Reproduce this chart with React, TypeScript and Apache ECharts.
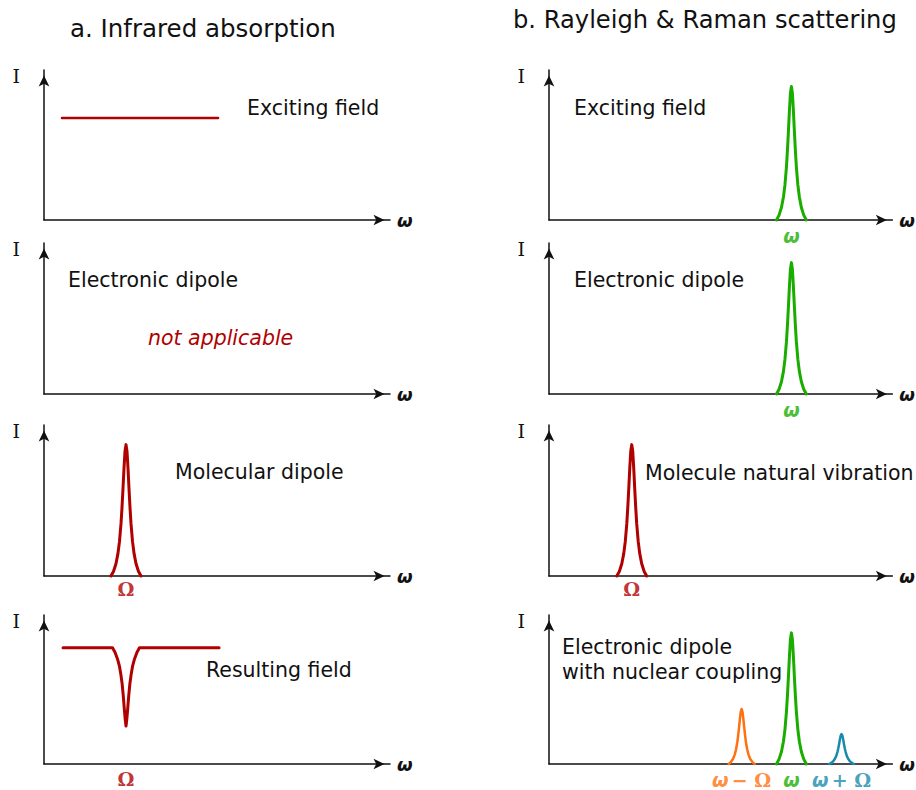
import React, { useEffect, useRef } from "react";
import * as echarts from "echarts";

// ---- Data (frequency ω in arbitrary units 0–100, intensity I in arbitrary units 0–100) ----
// a. Infrared absorption
const irExcitingX = [5.2, 50.3];
const irExcitingY = [68, 68];

const irMolecularX = [19.35, 20.08, 20.8, 21.38, 21.82, 22.25, 22.54, 22.83, 23.12, 23.41, 23.7, 23.99, 24.28, 24.57, 24.86, 25.15, 25.58, 26.02, 26.6, 27.32, 28.05];
const irMolecularY = [0, 3.0, 8.1, 15.0, 22.9, 34.5, 45.2, 57.8, 71.3, 82.6, 87, 82.6, 71.3, 57.8, 45.2, 34.5, 22.9, 15.0, 8.1, 3.0, 0];

const irResultX = [5.5, 19.8, 20.52, 21.24, 21.82, 22.25, 22.6, 22.92, 23.21, 23.47, 23.7, 23.93, 24.19, 24.48, 24.8, 25.15, 25.58, 26.16, 26.88, 27.6, 50.6];
const irResultY = [78, 78, 75, 70.5, 65.5, 59.5, 53.5, 45.5, 37, 30, 25.5, 30, 37, 45.5, 53.5, 59.5, 65.5, 70.5, 75, 78, 78];

// b. Rayleigh & Raman scattering
const raExcitingX = [66.25, 66.98, 67.7, 68.28, 68.72, 69.15, 69.44, 69.73, 70.02, 70.31, 70.6, 70.89, 71.18, 71.47, 71.76, 72.05, 72.48, 72.92, 73.5, 74.22, 74.95];
const raExcitingY = [0, 3.1, 8.3, 15.3, 23.4, 35.3, 46.2, 59.1, 73.0, 84.5, 89, 84.5, 73.0, 59.1, 46.2, 35.3, 23.4, 15.3, 8.3, 3.1, 0];

const raElectronicX = [66.25, 66.98, 67.7, 68.28, 68.72, 69.15, 69.44, 69.73, 70.02, 70.31, 70.6, 70.89, 71.18, 71.47, 71.76, 72.05, 72.48, 72.92, 73.5, 74.22, 74.95];
const raElectronicY = [0, 3.0, 8.1, 15.0, 22.9, 34.5, 45.2, 57.8, 71.3, 82.6, 87, 82.6, 71.3, 57.8, 45.2, 34.5, 22.9, 15.0, 8.1, 3.0, 0];

const raVibrationX = [19.75, 20.48, 21.2, 21.78, 22.22, 22.65, 22.94, 23.23, 23.52, 23.81, 24.1, 24.39, 24.68, 24.97, 25.26, 25.55, 25.98, 26.42, 27.0, 27.72, 28.45];
const raVibrationY = [0, 3.0, 8.1, 15.0, 22.9, 34.5, 45.2, 57.8, 71.3, 82.6, 87, 82.6, 71.3, 57.8, 45.2, 34.5, 22.9, 15.0, 8.1, 3.0, 0];

const raRayleighX = [66.25, 66.98, 67.7, 68.28, 68.72, 69.15, 69.44, 69.73, 70.02, 70.31, 70.6, 70.89, 71.18, 71.47, 71.76, 72.05, 72.48, 72.92, 73.5, 74.22, 74.95];
const raRayleighY = [0, 3.1, 8.2, 15.1, 23.1, 34.9, 45.7, 58.4, 72.2, 83.5, 88, 83.5, 72.2, 58.4, 45.7, 34.9, 23.1, 15.1, 8.2, 3.1, 0];

const raStokesX = [52.33, 52.96, 53.59, 54.09, 54.47, 54.84, 55.09, 55.35, 55.6, 55.85, 56.1, 56.35, 56.6, 56.85, 57.11, 57.36, 57.73, 58.11, 58.61, 59.24, 59.87];
const raStokesY = [0, 1.3, 3.4, 6.3, 9.7, 14.6, 19.2, 24.5, 30.3, 35.0, 36.9, 35.0, 30.3, 24.5, 19.2, 14.6, 9.7, 6.3, 3.4, 1.3, 0];

const raAntiStokesX = [81.59, 82.2, 82.79, 83.27, 83.64, 84.0, 84.24, 84.48, 84.72, 84.96, 85.2, 85.44, 85.68, 85.92, 86.16, 86.4, 86.76, 87.13, 87.61, 88.2, 88.81];
const raAntiStokesY = [0, 0.7, 1.9, 3.5, 5.3, 8.0, 10.4, 13.3, 16.5, 19.1, 20.1, 19.1, 16.5, 13.3, 10.4, 8.0, 5.3, 3.5, 1.9, 0.7, 0];

// Peak position labels
const omegaPos = 70.6;
const omegaMinusPos = 56.1;
const omegaPlusPos = 85.2;
const irOmegaPos = 23.7;
const raOmegaPos = 24.1;

const RED = "#b00000";
const GREEN = "#1aad00";
const ORANGE = "#ff7010";
const BLUE = "#1a8aab";
const INK = "#111111";

const zip = (xs: number[], ys: number[]) => xs.map((x, i) => [x, ys[i]]);

// panel rows (pixel layout)
const rows = [
  { top: 70, height: 150 },
  { top: 243, height: 151 },
  { top: 425, height: 151 },
  { top: 615, height: 149 },
];
const cols = [
  { left: 44, width: 346 },
  { left: 549, width: 344 },
];

export default function App() {
  const ref = useRef<HTMLDivElement>(null);

  useEffect(() => {
    if (!ref.current) return;
    const chart = echarts.init(ref.current, null, { renderer: "svg" });

    const grids: any[] = [];
    const xAxes: any[] = [];
    const yAxes: any[] = [];
    cols.forEach((c) => {
      rows.forEach((r) => {
        grids.push({ left: c.left, top: r.top, width: c.width, height: r.height });
      });
    });
    const axisLine = {
      show: true,
      lineStyle: { color: INK, width: 1.5 },
      symbol: ["none", "arrow"],
      symbolSize: [8, 11],
      symbolOffset: [0, -5.5],
    };
    grids.forEach((_, i) => {
      xAxes.push({
        gridIndex: i,
        type: "value",
        min: 0,
        max: 100,
        axisLine,
        axisTick: { show: false },
        axisLabel: { show: false },
        splitLine: { show: false },
        name: "ω",
        nameLocation: "end",
        nameGap: 7,
        nameTextStyle: {
          fontFamily: "DejaVu Sans",
          fontWeight: "bold",
          fontStyle: "italic",
          fontSize: 18,
          color: INK,
          verticalAlign: "middle",
        },
      });
      yAxes.push({
        gridIndex: i,
        type: "value",
        min: 0,
        max: 100,
        axisLine,
        axisTick: { show: false },
        axisLabel: { show: false },
        splitLine: { show: false },
        name: "I",
        nameLocation: "end",
        nameGap: -6,
        nameTextStyle: {
          fontFamily: "DejaVu Serif",
          fontSize: 19,
          color: INK,
          align: "right",
          verticalAlign: "middle",
          padding: [0, 24, 0, 0],
        },
      });
    });

    const lineSeries = (g: number, xs: number[], ys: number[], color: string, width = 3) => ({
      type: "line",
      xAxisIndex: g,
      yAxisIndex: g,
      data: zip(xs, ys),
      showSymbol: false,
      symbol: "none",
      clip: false,
      lineStyle: { color, width, cap: "round", join: "round" },
      silent: true,
    });

    const labelSeries = (g: number, x: number, text: string, color: string, serif: boolean, distance: number) => ({
      type: "scatter",
      xAxisIndex: g,
      yAxisIndex: g,
      data: [[x, 0]],
      symbolSize: 0,
      silent: true,
      label: {
        show: true,
        position: "bottom",
        distance,
        formatter: text,
        color,
        fontSize: 19,
        fontWeight: "bold",
        fontStyle: serif ? "normal" : "italic",
        fontFamily: serif ? "DejaVu Serif" : "DejaVu Sans",
      },
    });

    // grid indices: left column 0..3, right column 4..7
    const series: any[] = [
      lineSeries(0, irExcitingX, irExcitingY, RED, 2.5),
      lineSeries(2, irMolecularX, irMolecularY, RED),
      lineSeries(3, irResultX, irResultY, RED),
      lineSeries(4, raExcitingX, raExcitingY, GREEN),
      lineSeries(5, raElectronicX, raElectronicY, GREEN),
      lineSeries(6, raVibrationX, raVibrationY, RED),
      lineSeries(7, raRayleighX, raRayleighY, GREEN),
      lineSeries(7, raStokesX, raStokesY, ORANGE, 2.5),
      lineSeries(7, raAntiStokesX, raAntiStokesY, BLUE, 2.5),
      labelSeries(2, irOmegaPos, "Ω", RED, true, 3),
      labelSeries(3, irOmegaPos, "Ω", RED, true, 5),
      labelSeries(4, omegaPos, "ω", GREEN, false, 6),
      labelSeries(5, omegaPos, "ω", GREEN, false, 6),
      labelSeries(6, raOmegaPos, "Ω", RED, true, 3),
      labelSeries(7, omegaPos, "ω", GREEN, false, 6),
      {
        type: "scatter",
        xAxisIndex: 7,
        yAxisIndex: 7,
        data: [[omegaMinusPos, 0]],
        symbolSize: 0,
        silent: true,
        label: {
          show: true,
          position: "bottom",
          distance: 6,
          formatter: "{w|ω} {o|− Ω}",
          color: ORANGE,
          rich: {
            w: { fontFamily: "DejaVu Sans", fontWeight: "bold", fontStyle: "italic", fontSize: 19, color: ORANGE },
            o: { fontFamily: "DejaVu Serif", fontWeight: "bold", fontSize: 19, color: ORANGE },
          },
        },
      },
      {
        type: "scatter",
        xAxisIndex: 7,
        yAxisIndex: 7,
        data: [[omegaPlusPos, 0]],
        symbolSize: 0,
        silent: true,
        label: {
          show: true,
          position: "bottom",
          distance: 6,
          formatter: "{w|ω} {o|+ Ω}",
          color: BLUE,
          rich: {
            w: { fontFamily: "DejaVu Sans", fontWeight: "bold", fontStyle: "italic", fontSize: 19, color: BLUE },
            o: { fontFamily: "DejaVu Serif", fontWeight: "bold", fontSize: 19, color: BLUE },
          },
        },
      },
    ];

    const txt = (x: number, y: number, text: string, opts: any = {}) => ({
      type: "text",
      x,
      y,
      silent: true,
      style: {
        text,
        fill: opts.fill || INK,
        fontFamily: "DejaVu Sans",
        fontSize: opts.fontSize || 20.5,
        fontStyle: opts.fontStyle || "normal",
        verticalAlign: "middle",
        align: "left",
      },
    });

    chart.setOption({
      animation: false,
      backgroundColor: "#ffffff",
      grid: grids,
      xAxis: xAxes,
      yAxis: yAxes,
      series,
      graphic: [
        txt(70, 28, "a. Infrared absorption", { fontSize: 24.5 }),
        txt(513, 20, "b. Rayleigh & Raman scattering", { fontSize: 24.2 }),
        txt(247, 108, "Exciting field"),
        txt(68, 280, "Electronic dipole"),
        txt(148, 338, "not applicable", { fill: RED, fontStyle: "italic" }),
        txt(175, 472, "Molecular dipole"),
        txt(206, 670, "Resulting field"),
        txt(574, 108, "Exciting field"),
        txt(574, 280, "Electronic dipole"),
        txt(645, 473, "Molecule natural vibration"),
        txt(562, 647, "Electronic dipole"),
        txt(562, 672, "with nuclear coupling"),
      ],
    });

    return () => chart.dispose();
  }, []);

  return (
    <div
      ref={ref}
      style={{ position: "absolute", left: 0, top: 0, width: 916, height: 790, background: "#fff" }}
    />
  );
}
